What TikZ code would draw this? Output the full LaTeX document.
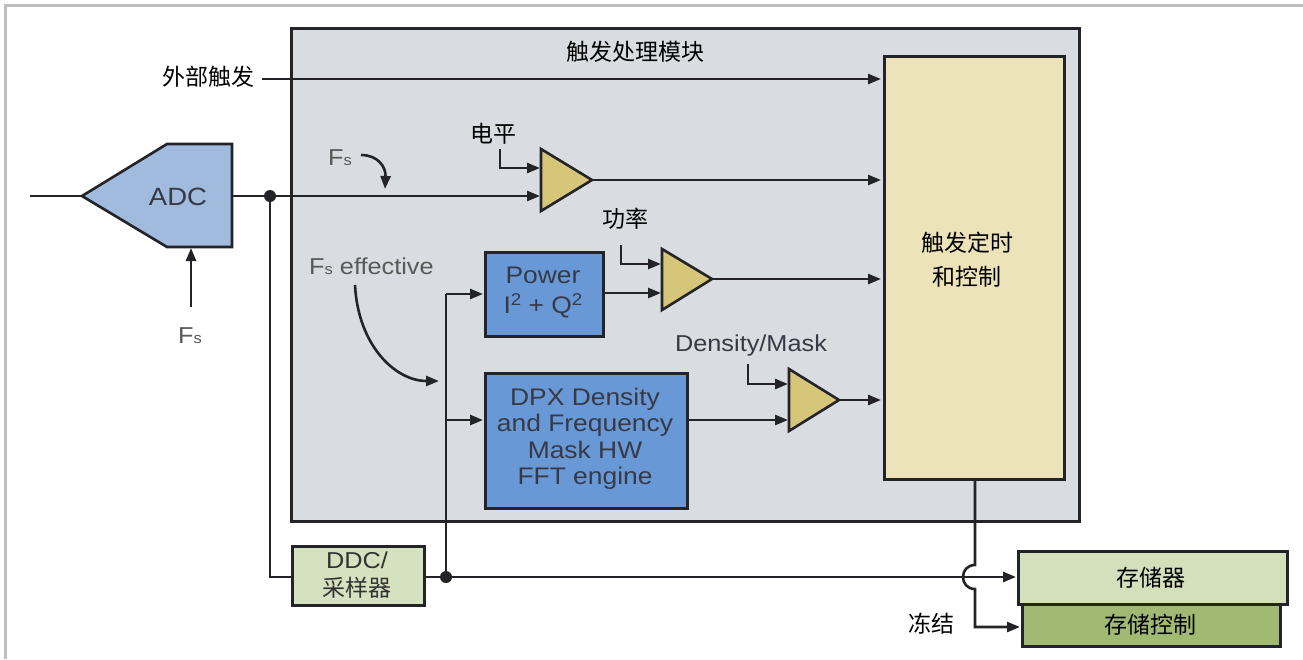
\documentclass[tikz,border=0pt]{standalone}
\usepackage{fontspec}
\setmainfont[FakeStretch=1.1]{Liberation Sans}
\newfontfamily\cjk{Noto Sans CJK SC}
\usetikzlibrary{arrows.meta}
\definecolor{blockgray}{RGB}{217,220,224}
\definecolor{trigyellow}{RGB}{236,227,185}
\definecolor{adcblue}{RGB}{160,187,222}
\definecolor{boxblue}{RGB}{104,152,214}
\definecolor{compyellow}{RGB}{214,198,122}
\definecolor{ddcgreen}{RGB}{214,225,192}
\definecolor{memgreen}{RGB}{212,223,188}
\definecolor{ctrlgreen}{RGB}{160,186,116}
\definecolor{linecol}{RGB}{35,35,40}
\definecolor{txtgray}{RGB}{55,58,70}
\definecolor{framegray}{RGB}{190,190,190}
\tikzset{
  ln/.style={draw=linecol, line width=2.6pt},
  arr/.style={ln, -{Triangle[length=13pt,width=10pt]}},
  boxst/.style={draw=linecol, line width=2.6pt, inner sep=0pt, anchor=north west},
  cjktext/.style={font=\cjk\fontsize{23}{29}\selectfont, text=black, inner sep=0pt},
  latintext/.style={font=\fontsize{23}{26}\selectfont, text=txtgray, inner sep=0pt, align=center},
  comp/.style={draw=linecol, line width=2.6pt, fill=compyellow, line join=miter},
  dotst/.style={circle, fill=linecol, minimum size=12pt, inner sep=0pt},
}
\newcommand{\Fs}{F{\fontsize{15}{15}\selectfont s}}
\newcommand{\suptwo}{\raisebox{8pt}{\fontsize{17}{17}\selectfont 2}}
\begin{document}
\begin{tikzpicture}[x=1pt,y=-1pt]
\useasboundingbox (0,0) rectangle (1303,659);
\fill[white] (0,0) rectangle (1303,659);
% outer frame (top and left)
\draw[framegray, line width=3pt] (5,659) -- (5,5) -- (1303,5);

% trigger processing block
\node[boxst, fill=blockgray, minimum width=788pt, minimum height=493pt] (blk) at (290,27) {};
\node[cjktext] (blktitle) at (635,52) {触发处理模块};

% trigger timing and control
\node[boxst, fill=trigyellow, minimum width=180pt, minimum height=423pt] (tt) at (883,55) {};
\node[cjktext, align=center, font=\cjk\fontsize{23}{34}\selectfont] (ttl) at (967,260) {触发定时\\和控制};

% ADC
\coordinate (adctip) at (82,196);
\draw[draw=linecol, line width=2.6pt, fill=adcblue] (adctip) -- (167,144) -- (232,144) -- (232,247) -- (167,247) -- cycle;
\node[latintext, font=\fontsize{25}{28}\selectfont] (adc) at (178,197) {ADC};
\coordinate (adcout) at (232,196);
\coordinate (adcbot) at (191,248);
\coordinate (inp) at (30,196);
\draw[ln] (inp) -- (adctip);
\coordinate (fsbot) at (191,307);
\draw[arr] (fsbot) -- (adcbot);
\node[latintext, text=black!65] (fs1) at (190,336) {\Fs};

% junction
\node[dotst] (j1) at (270,196) {};
\draw[ln] (adcout) -- (j1);

% comparator 1 (level)
\coordinate (c1a) at (541,149);
\coordinate (c1b) at (541,211);
\coordinate (c1t) at (592,180);
\draw[comp] (c1a) -- (c1t) -- (c1b) -- cycle;
\coordinate (c1in1) at (540,168);
\coordinate (c1in2) at (540,196);
\draw[arr] (j1) -- (c1in2);
\node[cjktext] (level) at (493,134) {电平};
\coordinate (lvlh) at (500,149);
\draw[arr] (lvlh) |- (c1in1);
\coordinate (t2) at (881,180);
\draw[arr] (c1t) -- (t2);

% external trigger
\node[cjktext] (ext) at (208,77) {外部触发};
\coordinate (exts) at (262,79);
\coordinate (t1) at (881,79);
\draw[arr] (exts) -- (t1);

% Fs curved arrow
\node[latintext, text=black!65] (fs2) at (340,158) {\Fs};
\coordinate (fs2a) at (361,155);
\coordinate (fs2b) at (385,189);
\draw[arr] (fs2a) .. controls (378,155) and (386,167) .. (fs2b);

% Fs effective
\node[latintext, text=black!65, anchor=west] (fse) at (309,266) {\Fs{} effective};
\coordinate (fsea) at (355,285);
\coordinate (fseb) at (439,381);
\draw[arr] (fsea) .. controls (358,345) and (395,381) .. (fseb);

% DDC
\node[boxst, fill=ddcgreen, minimum width=132pt, minimum height=59pt] (ddc) at (291,545) {};
\node[latintext, text=black!80, align=center, font=\fontsize{23}{28}\selectfont] (ddct) at (357,575) {DDC/\\{\cjk 采样器}};
\coordinate (ddcin) at (291,577);
\coordinate (ddcout) at (423,577);
\draw[ln] (j1) |- (ddcin);
\node[dotst] (j2) at (446,577) {};
\draw[ln] (ddcout) -- (j2);

% bus
\coordinate (bustop) at (446,294);
\coordinate (busmid) at (446,420);
\draw[ln] (j2) -- (bustop);

% Power box
\node[boxst, fill=boxblue, minimum width=118pt, minimum height=84pt] (pwr) at (484,251) {};
\node[latintext, font=\fontsize{24}{30}\selectfont] (pwrt) at (543,293) {Power\\I\suptwo{} + Q\suptwo};
\coordinate (pwrin) at (483,294);
\coordinate (pwrout) at (602,293);
\draw[arr] (bustop) -- (pwrin);

% comparator 2 (power)
\coordinate (c2a) at (662,249);
\coordinate (c2b) at (662,310);
\coordinate (c2t) at (712,279);
\draw[comp] (c2a) -- (c2t) -- (c2b) -- cycle;
\coordinate (c2in1) at (661,264);
\coordinate (c2in2) at (661,293);
\draw[arr] (pwrout) -- (c2in2);
\node[cjktext] (pwrl) at (625,219) {功率};
\coordinate (pwrh) at (621,245);
\draw[arr] (pwrh) |- (c2in1);
\coordinate (t3) at (881,279);
\draw[arr] (c2t) -- (t3);

% DPX box
\node[boxst, fill=boxblue, minimum width=202pt, minimum height=135pt] (dpx) at (484,372) {};
\node[latintext, font=\fontsize{24}{26.5}\selectfont] (dpxt) at (585,439) {DPX Density\\and Frequency\\Mask HW\\FFT engine};
\coordinate (dpxin) at (483,420);
\coordinate (dpxout) at (686,420);
\draw[arr] (busmid) -- (dpxin);

% comparator 3 (density/mask)
\coordinate (c3a) at (789,369);
\coordinate (c3b) at (789,431);
\coordinate (c3t) at (839,400);
\draw[comp] (c3a) -- (c3t) -- (c3b) -- cycle;
\coordinate (c3in1) at (788,384);
\coordinate (c3in2) at (788,420);
\draw[arr] (dpxout) -- (c3in2);
\node[latintext] (dml) at (751,346) {Density/Mask};
\coordinate (dmh) at (748,364);
\draw[arr] (dmh) |- (c3in1);
\coordinate (t4) at (881,400);
\draw[arr] (c3t) -- (t4);

% memory
\node[boxst, fill=ctrlgreen, minimum width=258pt, minimum height=42pt] (ctrl) at (1021,603) {};
\node[boxst, fill=memgreen, minimum width=269pt, minimum height=53pt] (mem) at (1017,550) {};
\node[cjktext] (memt) at (1151,578) {存储器};
\node[cjktext] (ctrlt) at (1150,625) {存储控制};
\coordinate (memin) at (1016,577);
\coordinate (ctrlin) at (1020,627);
\draw[arr] (j2) -- (memin);

% freeze line with hop
\coordinate (ttb) at (975,478);
\coordinate (hopa) at (975,565);
\coordinate (hopb) at (975,589);
\draw[arr] (ttb) -- (hopa) .. controls (959,565) and (959,589) .. (hopb) |- (ctrlin);
\node[cjktext] (frz) at (931,624) {冻结};
\end{tikzpicture}
\end{document}
